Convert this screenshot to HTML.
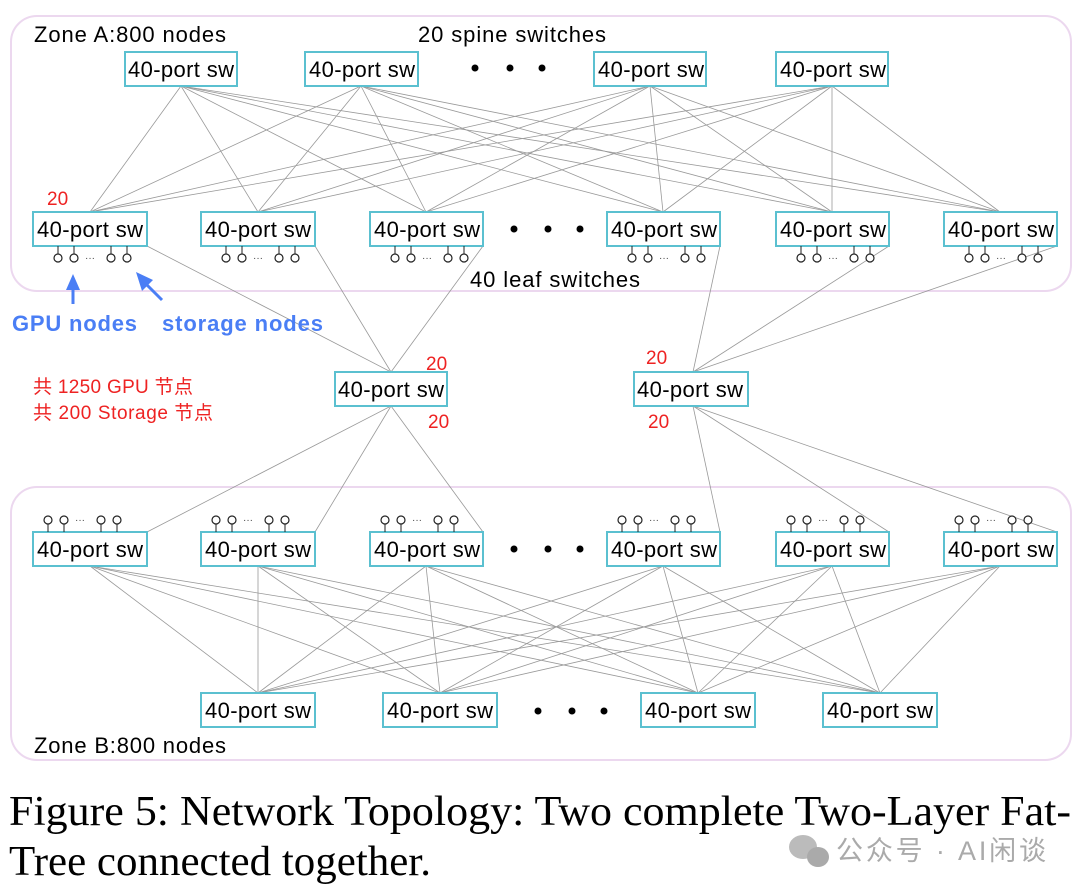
<!DOCTYPE html>
<html><head><meta charset="utf-8"><style>
body{margin:0;background:#fff;}
svg{display:block;}
.b{fill:#fff;stroke:#5bc0d0;stroke-width:2;}
.t{font-family:"Liberation Sans","DejaVu Sans",sans-serif;font-size:22px;fill:#000;}
.l{stroke:#999;stroke-width:0.8;}
.r{font-family:"Liberation Sans","Noto Sans CJK SC",sans-serif;font-size:19px;fill:#ee2222;}
.p{fill:#fff;stroke:#222;stroke-width:1.2;}
</style></head><body>
<svg width="1080" height="893" viewBox="0 0 1080 893" xmlns="http://www.w3.org/2000/svg">
<rect x="11" y="16" width="1060" height="275" rx="26" fill="none" stroke="#ecd8ef" stroke-width="2"/>
<rect x="11" y="487" width="1060" height="273" rx="26" fill="none" stroke="#ecd8ef" stroke-width="2"/>
<g class="l">
<line x1="181" y1="86" x2="90" y2="212"/><line x1="181" y1="86" x2="258" y2="212"/><line x1="181" y1="86" x2="426" y2="212"/><line x1="181" y1="86" x2="663" y2="212"/><line x1="181" y1="86" x2="832" y2="212"/><line x1="181" y1="86" x2="1000" y2="212"/>
<line x1="361" y1="86" x2="90" y2="212"/><line x1="361" y1="86" x2="258" y2="212"/><line x1="361" y1="86" x2="426" y2="212"/><line x1="361" y1="86" x2="663" y2="212"/><line x1="361" y1="86" x2="832" y2="212"/><line x1="361" y1="86" x2="1000" y2="212"/>
<line x1="650" y1="86" x2="90" y2="212"/><line x1="650" y1="86" x2="258" y2="212"/><line x1="650" y1="86" x2="426" y2="212"/><line x1="650" y1="86" x2="663" y2="212"/><line x1="650" y1="86" x2="832" y2="212"/><line x1="650" y1="86" x2="1000" y2="212"/>
<line x1="832" y1="86" x2="90" y2="212"/><line x1="832" y1="86" x2="258" y2="212"/><line x1="832" y1="86" x2="426" y2="212"/><line x1="832" y1="86" x2="663" y2="212"/><line x1="832" y1="86" x2="832" y2="212"/><line x1="832" y1="86" x2="1000" y2="212"/>
<line x1="258" y1="693" x2="90" y2="566"/><line x1="258" y1="693" x2="258" y2="566"/><line x1="258" y1="693" x2="426" y2="566"/><line x1="258" y1="693" x2="663" y2="566"/><line x1="258" y1="693" x2="832" y2="566"/><line x1="258" y1="693" x2="1000" y2="566"/>
<line x1="440" y1="693" x2="90" y2="566"/><line x1="440" y1="693" x2="258" y2="566"/><line x1="440" y1="693" x2="426" y2="566"/><line x1="440" y1="693" x2="663" y2="566"/><line x1="440" y1="693" x2="832" y2="566"/><line x1="440" y1="693" x2="1000" y2="566"/>
<line x1="698" y1="693" x2="90" y2="566"/><line x1="698" y1="693" x2="258" y2="566"/><line x1="698" y1="693" x2="426" y2="566"/><line x1="698" y1="693" x2="663" y2="566"/><line x1="698" y1="693" x2="832" y2="566"/><line x1="698" y1="693" x2="1000" y2="566"/>
<line x1="880" y1="693" x2="90" y2="566"/><line x1="880" y1="693" x2="258" y2="566"/><line x1="880" y1="693" x2="426" y2="566"/><line x1="880" y1="693" x2="663" y2="566"/><line x1="880" y1="693" x2="832" y2="566"/><line x1="880" y1="693" x2="1000" y2="566"/>
<line x1="147" y1="246" x2="391" y2="372"/><line x1="315" y1="246" x2="391" y2="372"/><line x1="483" y1="246" x2="391" y2="372"/>
<line x1="720" y1="246" x2="693" y2="372"/><line x1="889" y1="246" x2="693" y2="372"/><line x1="1057" y1="246" x2="693" y2="372"/>
<line x1="391" y1="406" x2="147" y2="532"/><line x1="391" y1="406" x2="315" y2="532"/><line x1="391" y1="406" x2="483" y2="532"/>
<line x1="693" y1="406" x2="720" y2="532"/><line x1="693" y1="406" x2="889" y2="532"/><line x1="693" y1="406" x2="1057" y2="532"/>
</g>
<text x="34" y="42" class="t" textLength="192">Zone A:800 nodes</text>
<text x="418" y="42" class="t" textLength="188">20 spine switches</text>
<text x="470" y="287" class="t" textLength="170">40 leaf switches</text>
<text x="34" y="753" class="t" textLength="192">Zone B:800 nodes</text>
<g>
<rect x="125" y="52" width="112" height="34" class="b"/><text x="128" y="77" class="t" textLength="106">40-port sw</text>
<rect x="305" y="52" width="113" height="34" class="b"/><text x="309" y="77" class="t" textLength="106">40-port sw</text>
<rect x="594" y="52" width="112" height="34" class="b"/><text x="598" y="77" class="t" textLength="106">40-port sw</text>
<rect x="776" y="52" width="112" height="34" class="b"/><text x="780" y="77" class="t" textLength="106">40-port sw</text>
<circle cx="475" cy="68" r="3.5"/><circle cx="510" cy="68" r="3.5"/><circle cx="542" cy="68" r="3.5"/>
</g>
<g>
<rect x="33" y="212" width="114" height="34" class="b"/><text x="37" y="237" class="t" textLength="106">40-port sw</text>
<rect x="201" y="212" width="114" height="34" class="b"/><text x="205" y="237" class="t" textLength="106">40-port sw</text>
<rect x="370" y="212" width="113" height="34" class="b"/><text x="374" y="237" class="t" textLength="106">40-port sw</text>
<rect x="607" y="212" width="113" height="34" class="b"/><text x="611" y="237" class="t" textLength="106">40-port sw</text>
<rect x="776" y="212" width="113" height="34" class="b"/><text x="780" y="237" class="t" textLength="106">40-port sw</text>
<rect x="944" y="212" width="113" height="34" class="b"/><text x="948" y="237" class="t" textLength="106">40-port sw</text>
<circle cx="514" cy="229" r="3.5"/><circle cx="548" cy="229" r="3.5"/><circle cx="580" cy="229" r="3.5"/>
</g>
<g>
<rect x="33" y="532" width="114" height="34" class="b"/><text x="37" y="557" class="t" textLength="106">40-port sw</text>
<rect x="201" y="532" width="114" height="34" class="b"/><text x="205" y="557" class="t" textLength="106">40-port sw</text>
<rect x="370" y="532" width="113" height="34" class="b"/><text x="374" y="557" class="t" textLength="106">40-port sw</text>
<rect x="607" y="532" width="113" height="34" class="b"/><text x="611" y="557" class="t" textLength="106">40-port sw</text>
<rect x="776" y="532" width="113" height="34" class="b"/><text x="780" y="557" class="t" textLength="106">40-port sw</text>
<rect x="944" y="532" width="113" height="34" class="b"/><text x="948" y="557" class="t" textLength="106">40-port sw</text>
<circle cx="514" cy="549" r="3.5"/><circle cx="548" cy="549" r="3.5"/><circle cx="580" cy="549" r="3.5"/>
<rect x="201" y="693" width="114" height="34" class="b"/><text x="205" y="718" class="t" textLength="106">40-port sw</text>
<rect x="383" y="693" width="114" height="34" class="b"/><text x="387" y="718" class="t" textLength="106">40-port sw</text>
<rect x="641" y="693" width="114" height="34" class="b"/><text x="645" y="718" class="t" textLength="106">40-port sw</text>
<rect x="823" y="693" width="114" height="34" class="b"/><text x="827" y="718" class="t" textLength="106">40-port sw</text>
<circle cx="538" cy="711" r="3.5"/><circle cx="572" cy="711" r="3.5"/><circle cx="604" cy="711" r="3.5"/>
</g>
<rect x="335" y="372" width="112" height="34" class="b"/><text x="338" y="397" class="t" textLength="106">40-port sw</text>
<rect x="634" y="372" width="114" height="34" class="b"/><text x="637" y="397" class="t" textLength="106">40-port sw</text>
<text x="47" y="205" class="r">20</text>
<text x="426" y="370" class="r">20</text>
<text x="428" y="428" class="r">20</text>
<text x="646" y="364" class="r">20</text>
<text x="648" y="428" class="r">20</text>
<text x="33" y="393" class="r" textLength="160">共 1250 GPU 节点</text>
<text x="33" y="419" class="r" textLength="180">共 200 Storage 节点</text>
<defs>
<g id="pd"><line x1="25" y1="0" x2="25" y2="8" stroke="#222"/><line x1="41" y1="0" x2="41" y2="8" stroke="#222"/><line x1="78" y1="0" x2="78" y2="8" stroke="#222"/><line x1="94" y1="0" x2="94" y2="8" stroke="#222"/>
<circle cx="25" cy="12" r="4" class="p"/><circle cx="41" cy="12" r="4" class="p"/><circle cx="78" cy="12" r="4" class="p"/><circle cx="94" cy="12" r="4" class="p"/>
<text x="52" y="15" style="font-family:'Liberation Sans',sans-serif;font-size:10px;fill:#444">···</text></g>
<g id="pu"><line x1="25" y1="0" x2="25" y2="-8" stroke="#222"/><line x1="41" y1="0" x2="41" y2="-8" stroke="#222"/><line x1="78" y1="0" x2="78" y2="-8" stroke="#222"/><line x1="94" y1="0" x2="94" y2="-8" stroke="#222"/>
<circle cx="25" cy="-12" r="4" class="p"/><circle cx="41" cy="-12" r="4" class="p"/><circle cx="78" cy="-12" r="4" class="p"/><circle cx="94" cy="-12" r="4" class="p"/>
<text x="52" y="-9" style="font-family:'Liberation Sans',sans-serif;font-size:10px;fill:#444">···</text></g>
</defs>
<use href="#pd" x="33" y="246"/><use href="#pd" x="201" y="246"/><use href="#pd" x="370" y="246"/><use href="#pd" x="607" y="246"/><use href="#pd" x="776" y="246"/><use href="#pd" x="944" y="246"/>
<use href="#pu" x="23" y="532"/><use href="#pu" x="191" y="532"/><use href="#pu" x="360" y="532"/><use href="#pu" x="597" y="532"/><use href="#pu" x="766" y="532"/><use href="#pu" x="934" y="532"/>
<line x1="73" y1="304" x2="73" y2="288" stroke="#4a7ef5" stroke-width="3"/>
<polygon points="73,274 66,290 80,290" fill="#4a7ef5"/>
<line x1="162" y1="300" x2="146" y2="284" stroke="#4a7ef5" stroke-width="3"/>
<polygon points="136,272 153,280 142,291" fill="#4a7ef5"/>
<text x="12" y="331" textLength="125" style="font-family:'Liberation Sans',sans-serif;font-size:22px;font-weight:bold;fill:#4a7ef5">GPU nodes</text>
<text x="162" y="331" textLength="161" style="font-family:'Liberation Sans',sans-serif;font-size:22px;font-weight:bold;fill:#4a7ef5">storage nodes</text>
<text x="9" y="825" textLength="1062" lengthAdjust="spacingAndGlyphs" style="font-family:'Liberation Serif',serif;font-size:42px;fill:#000">Figure 5: Network Topology: Two complete Two-Layer Fat-</text>
<text x="9" y="875" textLength="422" lengthAdjust="spacingAndGlyphs" style="font-family:'Liberation Serif',serif;font-size:42px;fill:#000">Tree connected together.</text>
<ellipse cx="803" cy="847" rx="14" ry="12" fill="#bbb"/><ellipse cx="818" cy="857" rx="11" ry="10" fill="#aaa"/>
<text x="836" y="860" textLength="210" style="font-family:'Liberation Sans','Noto Sans CJK SC',sans-serif;font-size:27px;fill:#aaa">公众号 · AI闲谈</text>
</svg>
</body></html>
